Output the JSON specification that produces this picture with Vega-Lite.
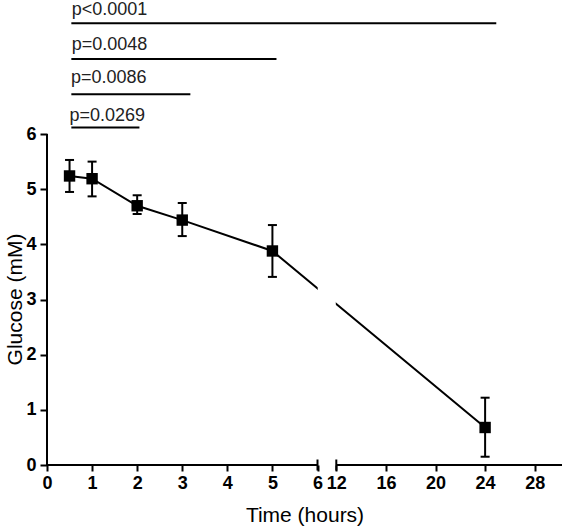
{
  "$schema": "https://vega.github.io/schema/vega-lite/v6.json",
  "width": 515,
  "height": 465,
  "autosize": "none",
  "padding": {"left": 47, "top": 0, "right": 0, "bottom": 63},
  "background": "white",
  "config": {"view": {"stroke": null}, "font": "Liberation Sans", "axis": {"grid": false}},
  "datasets": {
    "glucose": [
      {"time": 0.5, "glucose": 5.24, "lo": 4.95, "hi": 5.53},
      {"time": 1, "glucose": 5.19, "lo": 4.87, "hi": 5.5},
      {"time": 2, "glucose": 4.7, "lo": 4.55, "hi": 4.89},
      {"time": 3, "glucose": 4.44, "lo": 4.15, "hi": 4.75},
      {"time": 5, "glucose": 3.88, "lo": 3.41, "hi": 4.35},
      {"time": 24, "glucose": 0.68, "lo": 0.15, "hi": 1.22}
    ],
    "gap": [{"x": 6.07, "x2": 11.84, "y": 2.75, "y2": 3.4}],
    "axislines": [
      {"x": 0, "x2": 6, "y": 0, "y2": 0},
      {"x": 12, "x2": 30.2, "y": 0, "y2": 0},
      {"x": 0, "x2": 0, "y": 0, "y2": 6}
    ],
    "breaks": [{"time": 6, "y": 0}, {"time": 12, "y": 0}],
    "sig": [
      {"label": "p=0.0269", "tx": 0.5, "x1": 0.54, "x2": 2.05, "ly": 6.12, "ty": 6.24},
      {"label": "p=0.0086", "tx": 0.53, "x1": 0.54, "x2": 3.18, "ly": 6.72, "ty": 6.92},
      {"label": "p=0.0048", "tx": 0.55, "x1": 0.54, "x2": 5.09, "ly": 7.36, "ty": 7.53},
      {"label": "p<0.0001", "tx": 0.55, "x1": 0.54, "x2": 24.9, "ly": 8.01, "ty": 8.16}
    ]
  },
  "layer": [
    {
      "data": {"name": "glucose"},
      "mark": {"type": "line", "color": "black", "strokeWidth": 2},
      "encoding": {
        "x": {
          "field": "time", "type": "quantitative",
          "scale": {"domain": [0, 6, 12, 30.2], "range": [0, 270.5, 289.3, 515], "nice": false, "zero": false},
          "axis": {
            "values": [0, 1, 2, 3, 4, 5, 6, 12, 16, 20, 24, 28], "format": "d",
            "domain": false, "tickColor": "black", "tickWidth": 2, "tickSize": 6,
            "labelFontSize": 18, "labelFontWeight": "bold", "labelColor": "black", "labelPadding": 3,
            "labelFlush": false, "labelOverlap": false,
            "title": "Time (hours)", "titleFontSize": 21, "titleFontWeight": "normal", "titleColor": "black",
            "titleBaseline": "alphabetic", "titleY": 56
          }
        },
        "y": {
          "field": "glucose", "type": "quantitative",
          "scale": {"domain": [0, 8.43], "nice": false, "zero": false},
          "axis": {
            "values": [0, 1, 2, 3, 4, 5, 6], "format": "d",
            "domain": false, "tickColor": "black", "tickWidth": 2, "tickSize": 7,
            "labelFontSize": 18, "labelFontWeight": "bold", "labelColor": "black", "labelPadding": 4,
            "labelFlush": false,
            "title": "Glucose (mM)", "titleFontSize": 21, "titleFontWeight": "normal", "titleColor": "black",
            "titleX": -26, "titleY": 299, "titleBaseline": "alphabetic"
          }
        }
      }
    },
    {
      "data": {"name": "gap"},
      "mark": {"type": "rect", "color": "white"},
      "encoding": {
        "x": {"field": "x", "type": "quantitative"},
        "x2": {"field": "x2"},
        "y": {"field": "y", "type": "quantitative"},
        "y2": {"field": "y2"}
      }
    },
    {
      "data": {"name": "glucose"},
      "mark": {"type": "rule", "color": "black", "strokeWidth": 2},
      "encoding": {
        "x": {"field": "time", "type": "quantitative"},
        "y": {"field": "lo", "type": "quantitative"},
        "y2": {"field": "hi"}
      }
    },
    {
      "data": {"name": "glucose"},
      "mark": {"type": "tick", "orient": "horizontal", "size": 9, "thickness": 2, "color": "black", "opacity": 1},
      "encoding": {
        "x": {"field": "time", "type": "quantitative"},
        "y": {"field": "lo", "type": "quantitative"}
      }
    },
    {
      "data": {"name": "glucose"},
      "mark": {"type": "tick", "orient": "horizontal", "size": 9, "thickness": 2, "color": "black", "opacity": 1},
      "encoding": {
        "x": {"field": "time", "type": "quantitative"},
        "y": {"field": "hi", "type": "quantitative"}
      }
    },
    {
      "data": {"name": "glucose"},
      "mark": {"type": "point", "shape": "square", "filled": true, "size": 130, "color": "black", "opacity": 1},
      "encoding": {
        "x": {"field": "time", "type": "quantitative"},
        "y": {"field": "glucose", "type": "quantitative"}
      }
    },
    {
      "data": {"name": "axislines"},
      "mark": {"type": "rule", "color": "black", "strokeWidth": 2},
      "encoding": {
        "x": {"field": "x", "type": "quantitative"},
        "x2": {"field": "x2"},
        "y": {"field": "y", "type": "quantitative"},
        "y2": {"field": "y2"}
      }
    },
    {
      "data": {"name": "breaks"},
      "mark": {"type": "tick", "orient": "vertical", "size": 11, "thickness": 2, "color": "black", "opacity": 1},
      "encoding": {
        "x": {"field": "time", "type": "quantitative"},
        "y": {"field": "y", "type": "quantitative"}
      }
    },
    {
      "data": {"name": "sig"},
      "mark": {"type": "rule", "color": "black", "strokeWidth": 2},
      "encoding": {
        "x": {"field": "x1", "type": "quantitative"},
        "x2": {"field": "x2"},
        "y": {"field": "ly", "type": "quantitative"}
      }
    },
    {
      "data": {"name": "sig"},
      "mark": {"type": "text", "align": "left", "baseline": "alphabetic", "fontSize": 18, "color": "#222222"},
      "encoding": {
        "x": {"field": "tx", "type": "quantitative"},
        "y": {"field": "ty", "type": "quantitative"},
        "text": {"field": "label", "type": "nominal"}
      }
    }
  ]
}
